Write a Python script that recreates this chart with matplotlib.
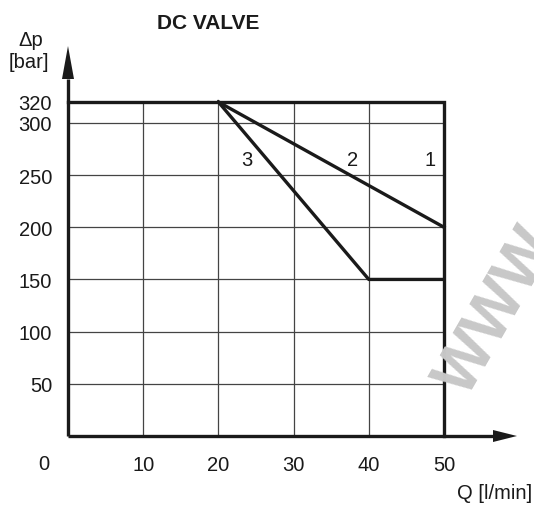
import matplotlib
matplotlib.use("Agg")
import matplotlib.pyplot as plt

plt.rcParams['font.family'] = ['Liberation Sans', 'DejaVu Sans']

# data
x_ticks = [10, 20, 30, 40, 50]
y_ticks = [50, 100, 150, 200, 250, 300, 320]
grid_x = [10, 20, 30, 40]
grid_y = [50, 100, 150, 200, 250, 300]
curve1_q = [0, 50, 50]
curve1_p = [320, 320, 0]
curve2_q = [20, 50]
curve2_p = [320, 200]
curve3_q = [20, 40, 50]
curve3_p = [320, 150, 150]
curve_labels = ["3", "2", "1"]
label_q = [23.8, 37.8, 48.1]
label_p = [265, 265, 265]

W, H = 534, 506
fig = plt.figure(figsize=(W / 100, H / 100), dpi=100)
x0, x1, y0, y1 = 68, 444, 437, 103  # pixel positions of data corners
ax = fig.add_axes([x0 / W, (H - y0) / H, (x1 - x0) / W, (y0 - y1) / H])
ax.set_xlim(0, 50)
ax.set_ylim(0, 320)
for s in ax.spines.values():
    s.set_visible(False)

pxx = 50 / (x1 - x0)   # data per pixel
pxy = 320 / (y0 - y1)
FS = 14.5
INK = '#1a1a1a'

# grid
ax.vlines(grid_x, 0, 320, colors='#444444', lw=0.9, zorder=1)
ax.hlines(grid_y, 0, 50, colors='#444444', lw=0.9, zorder=1)

# curves
lw = 2.4
ax.plot(curve1_q, curve1_p, color=INK, lw=lw, solid_joinstyle='miter', zorder=3, clip_on=False)
ax.plot(curve2_q, curve2_p, color=INK, lw=lw, zorder=3, clip_on=False)
ax.plot(curve3_q, curve3_p, color=INK, lw=lw, zorder=3, clip_on=False)
for t, q, p in zip(curve_labels, label_q, label_p):
    ax.text(q, p, t, fontsize=FS, ha='center', va='center', color=INK)

# axes with arrows
x_tip = (517 - x0) * pxx
x_base = (493 - x0) * pxx
y_tip = (y0 - 47) * pxy
y_base = (y0 - 80) * pxy
ax.plot([0, x_base], [0, 0], color=INK, lw=2.4, clip_on=False, zorder=4, solid_capstyle='butt')
ax.plot([0, 0], [0, y_base], color=INK, lw=2.4, clip_on=False, zorder=4, solid_capstyle='butt')
hw = 6
ax.fill([x_base, x_tip, x_base], [hw * pxy, 0, -hw * pxy], color=INK, clip_on=False, zorder=4, lw=0)
ax.fill([-hw * pxx, 0, hw * pxx], [y_base, y_tip, y_base], color=INK, clip_on=False, zorder=4, lw=0)

# ticks
ax.set_xticks(x_ticks)
ax.set_xticklabels([str(v) for v in x_ticks])
ax.set_yticks(y_ticks)
ax.set_yticklabels([str(v) for v in y_ticks])
ax.tick_params(axis='both', length=0, labelsize=FS, colors=INK)
ax.tick_params(axis='x', pad=14)
ax.tick_params(axis='y', pad=11.5)
ax.text(-3.2, -28 * pxy, "0", fontsize=FS, ha='center', va='center', color=INK)

# labels
fig.text(208 / W, 1 - 24 / H, "DC VALVE", fontsize=15, fontweight='bold', ha='center', va='center', color=INK)
fig.text(31 / W, 1 - 41 / H, "Δp", fontsize=FS, ha='center', va='center', color=INK)
fig.text(29 / W, 1 - 62 / H, "[bar]", fontsize=FS, ha='center', va='center', color=INK)
fig.text(532 / W, 1 - 494 / H, "Q [l/min]", fontsize=FS, ha='right', va='center', color=INK)

# watermark
fig.text(497 / W, 1 - 312 / H, "WWW", fontsize=46, fontweight='bold', color='#c8c8c8', rotation=60,
         ha='center', va='center', zorder=0)

fig.savefig("out.png", dpi=100)
